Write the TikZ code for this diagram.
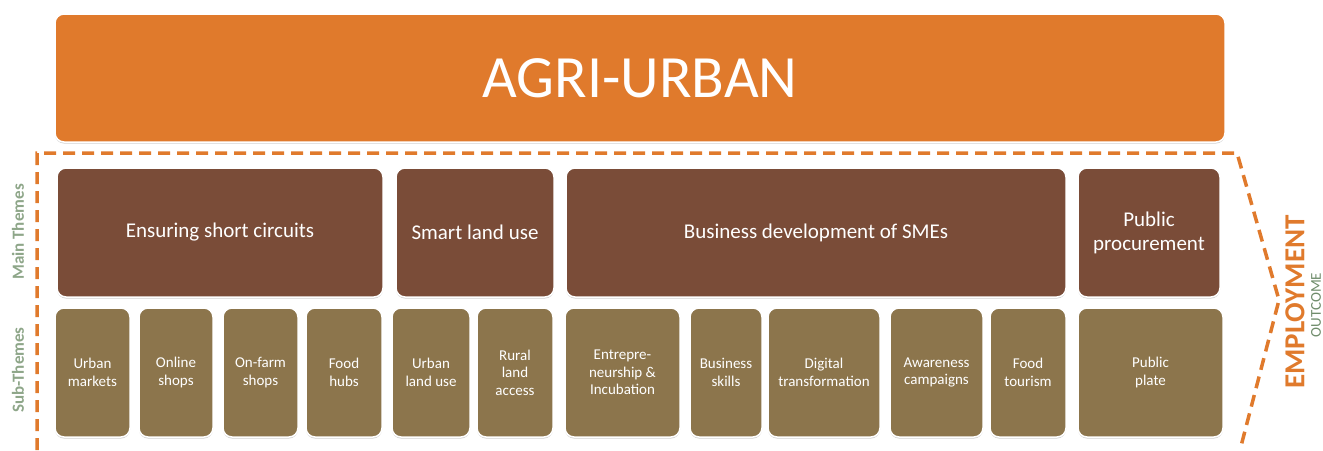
\documentclass[tikz,border=0pt]{standalone}
\usepackage{fontspec}
\setmainfont{Carlito}
\usepackage{tikz}
\usetikzlibrary{shadows}
\usepackage{xcolor}

\definecolor{agriorange}{HTML}{E07A2C}
\definecolor{mainbrown}{HTML}{7A4C38}
\definecolor{subbrown}{HTML}{8C754C}
\definecolor{sidegreen}{HTML}{8EA689}
\definecolor{outgreen}{HTML}{6F8C6B}

\begin{document}
\begin{tikzpicture}[x=1pt,y=-1pt,
    tilebox/.style={rectangle, rounded corners=9pt, draw=white, line width=1.5pt,
        text=white, align=center, inner sep=2pt,
        drop shadow={shadow xshift=0pt, shadow yshift=-1.5pt, fill=black!30, opacity=0.6}},
    banner/.style={tilebox, fill=agriorange, font=\fontsize{60}{60}\selectfont},
    mainbox/.style={tilebox, fill=mainbrown, minimum height=129pt,
        font=\fontsize{21}{24}\selectfont},
    subbox/.style={tilebox, fill=subbrown, minimum height=129pt,
        font=\fontsize{15}{17.5}\selectfont},
    sidelabel/.style={rotate=90, text=sidegreen, font=\fontsize{17}{17}\selectfont\bfseries}]
    \def\ym{232.5}
    \def\ys{372.5}
    \useasboundingbox (0,0) rectangle (1323,450);

    % dashed frame round the themes
    \draw[agriorange, line width=3.5pt, dash pattern=on 12pt off 7pt]
    (37,450) -- (37,153) -- (1237,153) -- (1279,300) -- (1240,450);

    % banner
    \node[banner, minimum width=1170pt, minimum height=128pt] (agri) at (640,78) {AGRI-URBAN};

    % main themes
    \node[mainbox, minimum width=326pt] (shortcirc) at (220,\ym) {Ensuring short circuits};
    \node[mainbox, minimum width=158pt] (landuse) at (475,\ym) {Smart land use};
    \node[mainbox, minimum width=500pt] (business) at (816,\ym) {Business development of SMEs};
    \node[mainbox, minimum width=142pt] (procure) at (1149,\ym) {Public\\procurement};

    % sub themes
    \node[subbox, minimum width=75pt] (urbmarkets) at (92.5,\ys) {Urban\\markets};
    \node[subbox, minimum width=74pt] (onlineshops) at (176,\ys) {Online\\shops};
    \node[subbox, minimum width=75pt] (farmshops) at (260.5,\ys) {On-farm\\shops};
    \node[subbox, minimum width=76pt] (foodhubs) at (344,\ys) {Food\\hubs};
    \node[subbox, minimum width=78pt] (urbland) at (431,\ys) {Urban\\land use};
    \node[subbox, minimum width=76pt] (ruralland) at (515,\ys) {Rural\\land\\access};
    \node[subbox, minimum width=115pt] (entrepr) at (622.5,\ys) {Entrepre-\\neurship \&\\Incubation};
    \node[subbox, minimum width=72pt] (bskills) at (726,\ys) {Business\\skills};
    \node[subbox, minimum width=112pt] (digital) at (824,\ys) {Digital\\transformation};
    \node[subbox, minimum width=93pt] (awareness) at (936.5,\ys) {Awareness\\campaigns};
    \node[subbox, minimum width=76pt] (foodtour) at (1028,\ys) {Food\\tourism};
    \node[subbox, minimum width=145pt] (pubplate) at (1150.5,\ys) {Public\\plate};

    % side labels
    \node[sidelabel] (mainlbl) at (18,232) {Main Themes};
    \node[sidelabel] (sublbl) at (18,370) {Sub-Themes};
    \node[rotate=90, text=agriorange, font=\fontsize{29}{29}\selectfont\bfseries] (employ) at (1295,302) {EMPLOYMENT};
    \node[rotate=90, text=outgreen, inner sep=0pt, font=\fontsize{15}{15}\selectfont] (outcome) at (1316,305) {OUTCOME};

\end{tikzpicture}
\end{document}
